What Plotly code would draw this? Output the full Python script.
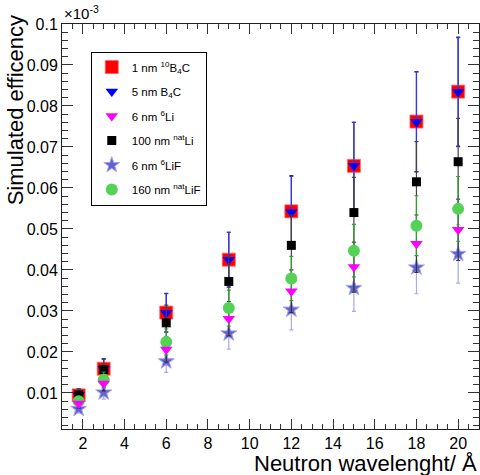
import plotly.graph_objects as go

# ---- data ----
wavelength = [1.8, 3, 6, 9, 12, 15, 18, 20]

b4c10_1nm = [0.0094, 0.0159, 0.0296, 0.0425, 0.0543, 0.0654, 0.0762, 0.0835]
b4c10_1nm_err = [0.0015, 0.0025, 0.0047, 0.0067, 0.0087, 0.0106, 0.0122, 0.0133]

b4c_5nm = [0.0095, 0.0159, 0.0295, 0.0425, 0.0541, 0.0654, 0.0761, 0.0834]
b4c_5nm_err = [0.0015, 0.0025, 0.0047, 0.0067, 0.0087, 0.0106, 0.0122, 0.0133]

li6_6nm = [0.0074, 0.0123, 0.0206, 0.0281, 0.0348, 0.0407, 0.0464, 0.0498]
li6_6nm_err = [0.0011, 0.0018, 0.0031, 0.0042, 0.0052, 0.0061, 0.0070, 0.0075]

linat_100nm = [0.0095, 0.0157, 0.0271, 0.0372, 0.0460, 0.0540, 0.0615, 0.0664]
linat_100nm_err = [0.0015, 0.0025, 0.0043, 0.0060, 0.0074, 0.0086, 0.0098, 0.0106]

lif6_6nm = [0.0061, 0.0101, 0.0177, 0.0245, 0.0303, 0.0356, 0.0406, 0.0439]
lif6_6nm_err = [0.0010, 0.0016, 0.0027, 0.0038, 0.0049, 0.0057, 0.0064, 0.0071]

lifnat_160nm = [0.0080, 0.0132, 0.0224, 0.0307, 0.0379, 0.0447, 0.0508, 0.0549]
lifnat_160nm_err = [0.0011, 0.0019, 0.0032, 0.0044, 0.0054, 0.0064, 0.0073, 0.0079]

x_ticks = [2, 4, 6, 8, 10, 12, 14, 16, 18, 20]
y_ticks = [0.01, 0.02, 0.03, 0.04, 0.05, 0.06, 0.07, 0.08, 0.09, 0.1]

FONT = "Liberation Sans, Arial, Helvetica, sans-serif"

fig = go.Figure()


def err(vals, color, show=True):
    return dict(type="data", array=vals, visible=show, color=color,
                thickness=1.2, width=2)


# red squares (bars hidden below blue)
fig.add_trace(go.Scatter(
    x=wavelength, y=b4c10_1nm, mode="markers", name="1 nm <sup>10</sup>B<sub>4</sub>C",
    legendgroup="g1", legendrank=1,
    marker=dict(symbol="square", size=13, color="#ff0000",
                line=dict(color="#ff6666", width=0.8)),
    error_y=err(b4c10_1nm_err, "#333333")))

# blue triangles
fig.add_trace(go.Scatter(
    x=wavelength, y=b4c_5nm, mode="markers", name="5 nm B<sub>4</sub>C",
    legendgroup="g2", legendrank=2,
    marker=dict(symbol="triangle-down", size=11, color="#0000ff", line=dict(width=0)),
    error_y=err(b4c_5nm_err, "#3333ff")))

# stars
fig.add_trace(go.Scatter(
    x=wavelength, y=lif6_6nm, mode="markers", name="6 nm <sup>6</sup>LiF",
    legendgroup="g5", legendrank=5,
    marker=dict(symbol="star", size=12, color="#6262d4",
                line=dict(color="#a4a4f0", width=1)),
    error_y=err(lif6_6nm_err, "#a8a8f0")))

# magenta error bars only (black, as drawn in the reference)
fig.add_trace(go.Scatter(
    x=wavelength, y=li6_6nm, mode="markers", showlegend=False, hoverinfo="skip",
    marker=dict(size=1, color="rgba(0,0,0,0)"),
    error_y=err(li6_6nm_err, "#333333")))

# black squares
fig.add_trace(go.Scatter(
    x=wavelength, y=linat_100nm, mode="markers", name="100 nm <sup>nat</sup>Li",
    legendgroup="g4", legendrank=4,
    marker=dict(symbol="square", size=9, color="#000000", line=dict(width=0)),
    error_y=err(linat_100nm_err, "#444444")))

# green circles
fig.add_trace(go.Scatter(
    x=wavelength, y=lifnat_160nm, mode="markers", name="160 nm <sup>nat</sup>LiF",
    legendgroup="g6", legendrank=6,
    marker=dict(symbol="circle", size=12, color="#55d155", line=dict(width=0)),
    error_y=err(lifnat_160nm_err, "#2e9e2e")))

# magenta triangles (markers on top)
fig.add_trace(go.Scatter(
    x=wavelength, y=li6_6nm, mode="markers", name="6 nm <sup>6</sup>Li",
    legendgroup="g3", legendrank=3,
    marker=dict(symbol="triangle-down", size=11, color="#ff00ff", line=dict(width=0))))

axis_common = dict(
    showline=True, linecolor="#222222", linewidth=1, mirror="allticks",
    ticks="inside", tickcolor="#333333", tickwidth=1,
    showgrid=False, zeroline=False,
    tickfont=dict(family=FONT, size=16, color="#000000"),
)

fig.update_xaxes(
    range=[1, 21], tickvals=x_ticks, ticktext=[str(v) for v in x_ticks], ticklen=10,
    minor=dict(ticks="inside", dtick=0.5, tick0=0, ticklen=5, tickcolor="#333333"),
    **axis_common)
fig.update_yaxes(
    range=[0.0012, 0.1], tickvals=y_ticks, ticktext=[f"{v:g}" for v in y_ticks], ticklen=11,
    minor=dict(ticks="inside", dtick=0.002, tick0=0, ticklen=6, tickcolor="#333333"),
    **axis_common)

fig.update_layout(
    width=480, height=475,
    margin=dict(l=62, r=1, t=24, b=46),
    paper_bgcolor="white", plot_bgcolor="white",
    font=dict(family=FONT, color="#000000"),
    showlegend=True,
    legend=dict(
        x=0.069, y=0.932, xanchor="left", yanchor="top",
        bgcolor="white", bordercolor="#000000", borderwidth=1,
        font=dict(family=FONT, size=11.5, color="#000000"),
        tracegroupgap=5.5, traceorder="grouped", itemsizing="trace",
        entrywidth=62, entrywidthmode="pixels",
    ),
    annotations=[
        dict(text="Neutron wavelenght/ Å", xref="paper", yref="paper",
             x=1, y=-0.084, xanchor="right", yanchor="middle", showarrow=False,
             font=dict(family=FONT, size=22, color="#000000")),
        dict(text="Simulated efficency", xref="paper", yref="paper",
             x=-0.112, y=1.027, xanchor="center", yanchor="top", textangle=-90,
             showarrow=False, font=dict(family=FONT, size=22, color="#000000")),
        dict(text="×10<sup>-3</sup>", xref="paper", yref="paper",
             x=0, y=1.0, xanchor="left", yanchor="bottom", showarrow=False,
             font=dict(family=FONT, size=15, color="#000000")),
    ],
)

fig.write_html(
    "out.html",
    config={"displayModeBar": False},
    post_script="document.body.style.margin='0';document.body.style.overflow='hidden';",
)
